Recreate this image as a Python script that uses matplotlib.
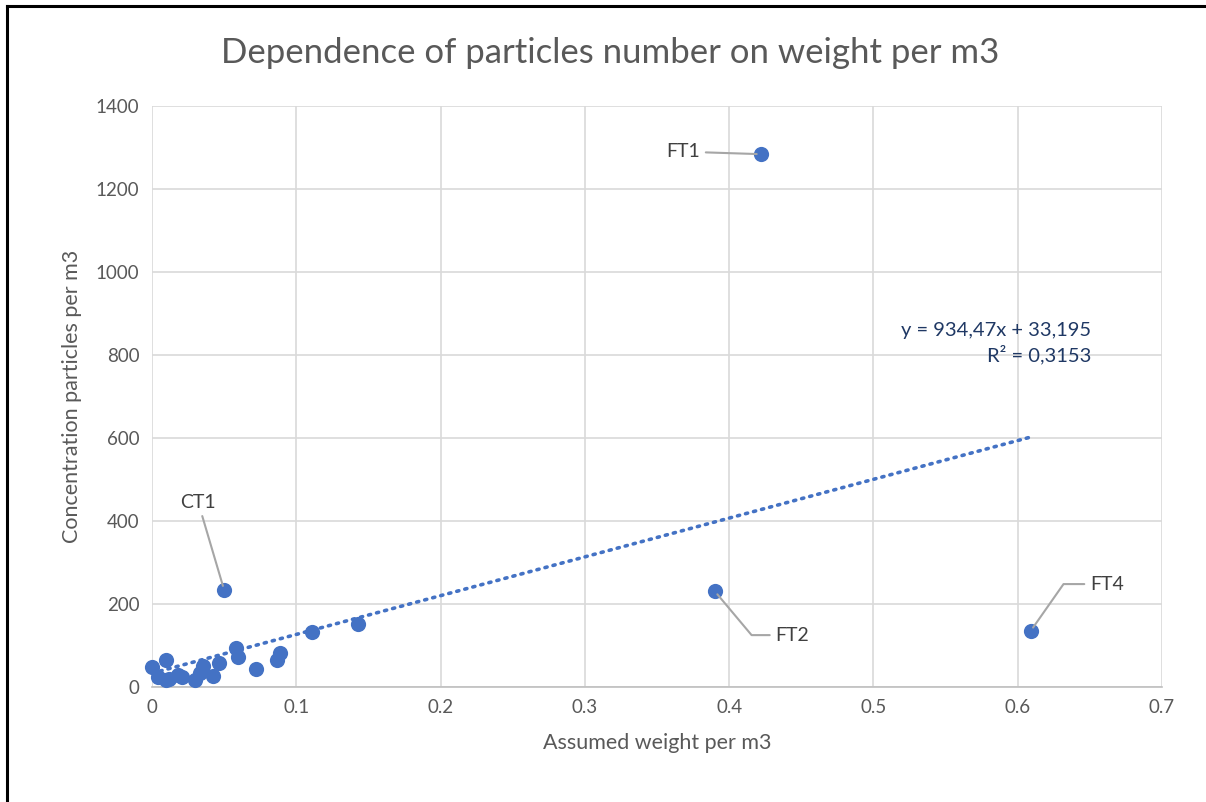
import matplotlib.pyplot as plt
import numpy as np
from matplotlib.lines import Line2D

# data
weight = [0.0, 0.0095, 0.0044, 0.010, 0.018, 0.012, 0.021, 0.030, 0.0356, 0.033,
          0.0425, 0.0467, 0.058, 0.0594, 0.0719, 0.0887, 0.0864, 0.1107, 0.143,
          0.050, 0.422, 0.390, 0.609]
particles = [48, 65, 25, 17, 29, 20, 24, 18, 51, 34,
             27, 57, 95, 72, 43, 81, 64, 132, 151,
             234, 1284, 231, 135]

labels = {"CT1": (0.050, 234), "FT1": (0.422, 1284), "FT2": (0.390, 231), "FT4": (0.609, 135)}

slope, intercept = 934.47, 33.195

plt.rcParams['font.family'] = ['Lato', 'DejaVu Sans']
grey = '#595959'

fig = plt.figure(figsize=(12.06, 8.02), dpi=100)
ax = fig.add_axes([0.126, 0.1434, 0.8375, 0.7244])

# trendline over the data range
xt = np.linspace(min(weight), max(weight), 50)
ax.plot(xt, slope * xt + intercept, linestyle=(0, (0.6, 1.7)), color='#4472C4',
        linewidth=2.6, dash_capstyle='round', zorder=2)

ax.scatter(weight, particles, s=120, color='#4472C4', zorder=3, linewidths=0, clip_on=False)

ax.set_xlim(0, 0.7)
ax.set_ylim(0, 1400)
ax.set_xticks(np.arange(0, 0.71, 0.1))
ax.set_xticklabels(['0', '0.1', '0.2', '0.3', '0.4', '0.5', '0.6', '0.7'])
ax.set_yticks(range(0, 1401, 200))
ax.grid(True, color='#d9d9d9', linewidth=1.2)
ax.set_axisbelow(True)
for s in ax.spines.values():
    s.set_visible(False)
ax.spines['bottom'].set_visible(True)
ax.spines['bottom'].set_color('#bfbfbf')
ax.spines['bottom'].set_linewidth(1.2)
ax.tick_params(length=0, labelsize=13.5, labelcolor=grey, pad=9)

ax.set_xlabel('Assumed weight per m3', fontsize=15.5, color=grey, labelpad=12)
ax.set_ylabel('Concentration particles per m3', fontsize=15.5, color=grey, labelpad=10)
fig.text(0.506, 0.934, 'Dependence of particles number on weight per m3',
         ha='center', va='center', fontsize=25, color=grey)

# data labels with leader lines
lbl = dict(fontsize=14, color='#404040')
lead = dict(arrowstyle='-', color='#a6a6a6', lw=1.5, shrinkA=2, shrinkB=3)
ax.annotate('FT1', xy=labels['FT1'], xytext=(0.380, 1290), ha='right', va='center',
            arrowprops=lead, **lbl)
ax.annotate('CT1', xy=labels['CT1'], xytext=(0.032, 425), ha='center', va='bottom',
            arrowprops=lead, **lbl)
ax.annotate('FT2', xy=labels['FT2'], xytext=(0.432, 125), ha='left', va='center',
            arrowprops=dict(lead, connectionstyle='angle,angleA=0,angleB=-50,rad=0'), **lbl)
ax.annotate('FT4', xy=labels['FT4'], xytext=(0.650, 248), ha='left', va='center',
            arrowprops=dict(lead, connectionstyle='angle,angleA=0,angleB=55,rad=0'), **lbl)

ax.text(0.651, 880, 'y = 934,47x + 33,195\nR² = 0,3153', fontsize=14.5, color='#1f3864',
        ha='right', va='top', linespacing=1.35)

# outer frame (top and left edges visible in the reference)
fig.add_artist(Line2D([0.006, 1.0], [0.992, 0.992], color='black', lw=2.2, transform=fig.transFigure))
fig.add_artist(Line2D([0.006, 0.006], [0.0, 0.992], color='black', lw=2.2, transform=fig.transFigure))

fig.savefig('out.png', dpi=100)
